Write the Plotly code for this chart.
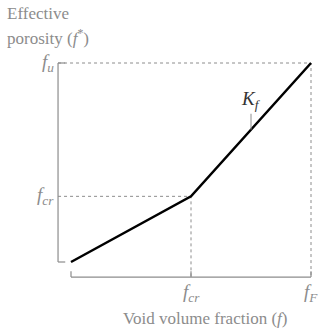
import plotly.graph_objects as go

# Piecewise-linear porosity model: f* vs f
f_vals = [0.0, 0.5, 1.0]          # 0, f_cr, f_F
fstar_vals = [0.0, 0.33, 1.0]     # start, f_cr, f_u
x_tick_vals = [0.5, 1.0]
x_tick_text = ["<i>f</i><sub><i>cr</i></sub>", "<i>f</i><sub><i>F</i></sub>"]
y_tick_vals = [0.33, 1.0]
y_tick_text = ["<i>f</i><sub><i>cr</i></sub>", "<i>f</i><sub><i>u</i></sub>"]

GREY = "#8c8c8c"
FONT = "Liberation Serif, serif"

x_axis_pos = -0.054   # x location of the vertical bracket
y_axis_pos = -0.076   # y location of the horizontal bracket

fig = go.Figure()

# dashed guide lines
for xv, yv in zip([f_vals[1], f_vals[2]], [fstar_vals[1], fstar_vals[2]]):
    fig.add_trace(go.Scatter(x=[x_axis_pos, xv, xv], y=[yv, yv, y_axis_pos],
                             mode="lines", line=dict(color=GREY, width=1, dash="3px,3px"),
                             hoverinfo="skip", showlegend=False))

# main curve
fig.add_trace(go.Scatter(x=f_vals, y=fstar_vals, mode="lines",
                         line=dict(color="black", width=2.5), showlegend=False))

# axis brackets
fig.add_shape(type="line", x0=x_axis_pos, x1=x_axis_pos, y0=fstar_vals[0], y1=fstar_vals[2],
              line=dict(color=GREY, width=1.2))
for yv in [fstar_vals[0], fstar_vals[2]]:
    fig.add_shape(type="line", x0=x_axis_pos, x1=x_axis_pos + 0.03, y0=yv, y1=yv,
                  line=dict(color=GREY, width=1.2))
fig.add_shape(type="line", x0=f_vals[0], x1=f_vals[2], y0=y_axis_pos, y1=y_axis_pos,
              line=dict(color=GREY, width=1.2))
for xv in f_vals:
    fig.add_shape(type="line", x0=xv, x1=xv, y0=y_axis_pos, y1=y_axis_pos + 0.03,
                  line=dict(color=GREY, width=1.2))

# tick labels
for xv, t in zip(x_tick_vals, x_tick_text):
    fig.add_annotation(x=xv, y=y_axis_pos, text=t, showarrow=False, yanchor="top", yshift=-2,
                       font=dict(family=FONT, size=19, color=GREY))
for yv, t in zip(y_tick_vals, y_tick_text):
    fig.add_annotation(x=x_axis_pos, y=yv, text=t, showarrow=False, xanchor="right", xshift=-2,
                       font=dict(family=FONT, size=19, color=GREY))

# K_f slope marker
kx = 0.75
ky = fstar_vals[1] + (kx - f_vals[1]) * (fstar_vals[2] - fstar_vals[1]) / (f_vals[2] - f_vals[1])
fig.add_shape(type="line", x0=kx, x1=kx, y0=ky, y1=ky + 0.08, line=dict(color=GREY, width=1))
fig.add_annotation(x=kx, y=ky + 0.08, text="<i>K</i><sub><i>f</i></sub>", showarrow=False,
                   yanchor="bottom", font=dict(family=FONT, size=19, color="#333333"))

# axis titles
fig.add_annotation(xref="paper", yref="paper", x=205 / 323, y=1 - 318 / 328,
                   text="Void volume fraction (<i>f</i>)", showarrow=False,
                   xanchor="center", yanchor="middle", font=dict(family=FONT, size=17, color=GREY))
fig.add_annotation(xref="paper", yref="paper", x=5 / 323, y=1 - 13 / 328, text="Effective",
                   showarrow=False, xanchor="left", yanchor="middle",
                   font=dict(family=FONT, size=17, color=GREY))
fig.add_annotation(xref="paper", yref="paper", x=5 / 323, y=1 - 37 / 328,
                   text="porosity (<i>f</i><sup>*</sup>)",
                   showarrow=False, xanchor="left", yanchor="middle",
                   font=dict(family=FONT, size=17, color=GREY))

fig.update_layout(
    width=323, height=328, margin=dict(l=0, r=0, t=0, b=0),
    plot_bgcolor="white", paper_bgcolor="white",
    xaxis=dict(range=[-71 / 240, 252 / 240], visible=False, fixedrange=True),
    yaxis=dict(range=[-66 / 199, 262 / 199], visible=False, fixedrange=True),
)

fig.write_html("out.html")
